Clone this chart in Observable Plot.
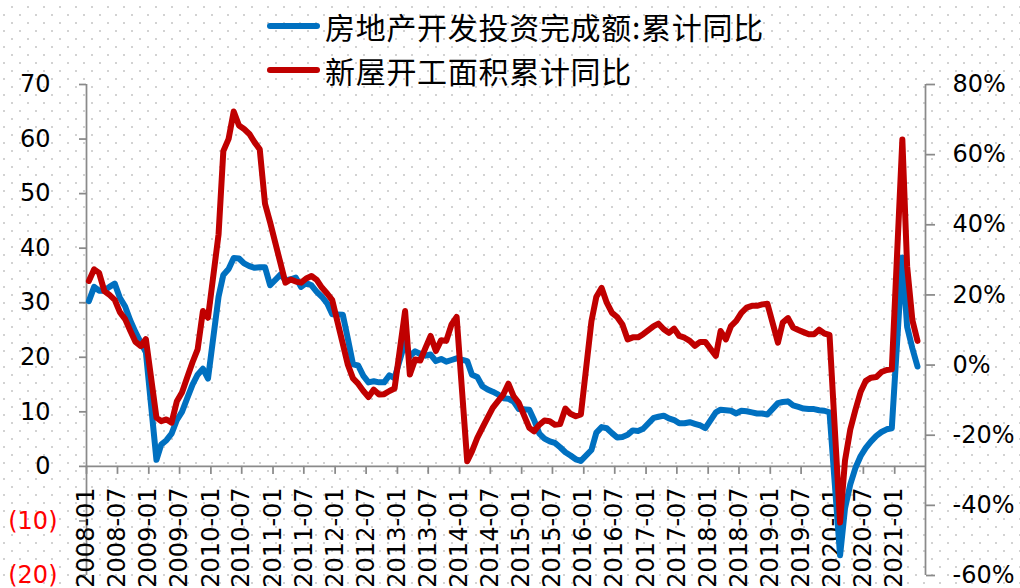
<!DOCTYPE html>
<html>
<head>
<meta charset="utf-8">
<script src="https://cdn.jsdelivr.net/npm/d3@7"></script>
<script src="https://cdn.jsdelivr.net/npm/@observablehq/plot@0.6"></script>
<style>
  html, body { margin: 0; padding: 0; width: 1020px; height: 588px; overflow: hidden; }
  body {
    background-color: #ffffff;
    background-image: url("data:image/svg+xml,%3Csvg xmlns='http://www.w3.org/2000/svg' width='16' height='16'%3E%3Crect x='11' y='6' width='2' height='2' fill='%23d2d2d2'/%3E%3Crect x='3' y='14' width='2' height='2' fill='%23d2d2d2'/%3E%3C/svg%3E");
  }
  #wrap { position: relative; width: 1020px; height: 588px; }
  #chart svg { position: absolute; left: 0; top: 0; }
  .sw { position: absolute; left: 267px; width: 53px; height: 6px; border-radius: 3px; }
  .lt { position: absolute; left: 325px; font-family: "Noto Sans CJK SC", "Noto Sans", sans-serif; font-size: 30px; letter-spacing: 0.7px; line-height: 44px; height: 44px; color: #000; white-space: nowrap; }
</style>
</head>
<body>
<div id="wrap">
  <div id="chart"></div>
  <div id="legend"></div>
</div>
<script>
// ---------------- data ----------------
const seriesNames = ["房地产开发投资完成额:累计同比", "新屋开工面积累计同比"];
const seriesColors = ["#0070C0", "#C00000"];

// reporting months: 2008 Jan–Dec, then Feb–Dec each year (Jan merged into Feb), 2021 Feb–May
const firstYearMonths = [1,2,3,4,5,6,7,8,9,10,11,12];
const yearMonths = [2,3,4,5,6,7,8,9,10,11,12];
const fullYears = [2009,2010,2011,2012,2013,2014,2015,2016,2017,2018,2019,2020];
const lastYearMonths = [2,3,4,5];

// 房地产开发投资完成额:累计同比 (left axis, %)
const investYoY = [
  30.3, 32.9, 32.2, 32.2, 32.9, 33.5, 30.9, 29.3, 26.7, 24.6, 22.7, 20.9, // 2008
  1.2, 4.0, 4.8, 6.0, 8.5, 10.0, 12.5, 15.0, 16.8, 17.9, 16.1,             // 2009
  31.1, 35.1, 36.2, 38.2, 38.1, 37.2, 36.7, 36.4, 36.5, 36.5, 33.2,        // 2010
  35.2, 34.1, 34.3, 34.6, 32.9, 33.6, 33.2, 32.0, 31.1, 29.9, 27.9,        // 2011
  27.8, 23.5, 18.7, 18.5, 16.6, 15.4, 15.6, 15.4, 15.4, 16.7, 16.2,        // 2012
  22.8, 20.2, 21.1, 20.6, 20.3, 20.5, 19.3, 19.7, 19.2, 19.5, 19.8,        // 2013
  19.3, 16.8, 16.4, 14.7, 14.1, 13.7, 13.2, 12.5, 12.4, 11.9, 10.5,        // 2014
  10.4, 8.5, 6.0, 5.1, 4.6, 4.3, 3.5, 2.6, 2.0, 1.3, 1.0,                  // 2015
  3.0, 6.2, 7.2, 7.0, 6.1, 5.3, 5.4, 5.8, 6.6, 6.5, 6.9,                   // 2016
  8.9, 9.1, 9.3, 8.8, 8.5, 7.9, 7.9, 8.1, 7.8, 7.5, 7.0,                   // 2017
  9.9, 10.4, 10.3, 10.2, 9.7, 10.2, 10.1, 9.9, 9.7, 9.7, 9.5,              // 2018
  11.6, 11.8, 11.9, 11.2, 10.9, 10.6, 10.5, 10.5, 10.3, 10.2, 9.9,         // 2019
  -16.3, -7.7, -3.3, -0.3, 1.9, 3.4, 4.6, 5.6, 6.3, 6.8, 7.0,              // 2020
  38.3, 25.6, 21.6, 18.3                                                   // 2021
];

// 新屋开工面积累计同比 (right axis, %)
const startsYoY = [
  24.0, 27.3, 26.3, 21.1, 20.0, 18.6, 15.1, 13.1, 9.7, 6.6, 5.4, 7.4,     // 2008
  -15.0, -16.0, -15.5, -16.4, -10.3, -7.8, -3.5, 0.8, 4.5, 15.4, 13.5,     // 2009
  37.3, 61.0, 64.5, 72.3, 68.3, 67.3, 65.9, 63.5, 61.5, 46.0, 40.7,        // 2010
  28.8, 23.5, 24.4, 23.8, 23.5, 24.7, 25.4, 24.3, 22.1, 20.4, 18.5,        // 2011
  6.1, 0.2, -3.8, -5.3, -7.4, -9.1, -7.0, -8.4, -8.3, -7.4, -6.7,          // 2012
  15.4, -2.7, 1.6, 1.3, 4.9, 8.3, 4.0, 7.1, 6.9, 11.6, 13.7,               // 2013
  -27.4, -24.6, -20.8, -17.9, -15.0, -12.2, -10.3, -8.4, -5.3, -8.9, -10.8,// 2014
  -17.9, -18.9, -17.0, -15.8, -16.0, -17.0, -16.8, -12.4, -13.9, -14.6, -14.1, // 2015
  12.5, 19.5, 22.0, 17.8, 14.9, 13.7, 11.6, 7.3, 7.9, 7.9, 8.8,            // 2016
  11.1, 11.8, 10.2, 9.2, 10.4, 8.3, 7.8, 6.9, 5.5, 6.6, 6.6,               // 2017
  2.6, 9.7, 7.3, 11.1, 12.6, 14.9, 16.4, 16.9, 16.9, 17.3, 17.5,           // 2018
  6.4, 12.1, 13.4, 10.7, 10.0, 9.4, 8.8, 8.8, 10.1, 9.0, 8.6,              // 2019
  -44.9, -27.2, -18.4, -12.8, -7.6, -4.5, -3.6, -3.4, -2.0, -1.4, -1.2,    // 2020
  64.3, 28.2, 12.8, 6.9                                                    // 2021
];

const xTickLabels = [
  "2008-01","2008-07","2009-01","2009-07","2010-01","2010-07","2011-01","2011-07",
  "2012-01","2012-07","2013-01","2013-07","2014-01","2014-07","2015-01","2015-07",
  "2016-01","2016-07","2017-01","2017-07","2018-01","2018-07","2019-01","2019-07",
  "2020-01","2020-07","2021-01"
];
const xStart = "2008-01";
const xEnd = "2021-07";
const leftPosTicks = [0, 10, 20, 30, 40, 50, 60, 70];
const leftNegTicks = [-10, -20];
const leftDomain = [-20, 70];
const rightTicks = [-60, -40, -20, 0, 20, 40, 60, 80];
const rightDomain = [-60, 80];

// ---------------- build ----------------
const periods = [];
firstYearMonths.forEach(m => periods.push([2008, m]));
fullYears.forEach(y => yearMonths.forEach(m => periods.push([y, m])));
lastYearMonths.forEach(m => periods.push([2021, m]));

const midMonth = ([y, m]) => new Date(Date.UTC(y, m - 1, 15));
const monthStart = s => { const [y, m] = s.split("-").map(Number); return new Date(Date.UTC(y, m - 1, 1)); };

const toLeft = p => leftDomain[0] + (p - rightDomain[0]) * (leftDomain[1] - leftDomain[0]) / (rightDomain[1] - rightDomain[0]);
const fromLeft = v => rightDomain[0] + (v - leftDomain[0]) * (rightDomain[1] - rightDomain[0]) / (leftDomain[1] - leftDomain[0]);

const table = periods.map((p, i) => ({date: midMonth(p), invest: investYoY[i], starts: startsYoY[i]}));
const tickDates = xTickLabels.map(monthStart);

const gray = "#8a8a8a";
const font = "DejaVu Sans";

const chart = Plot.plot({
  width: 1020,
  height: 588,
  marginLeft: 86,
  marginRight: 95,
  marginTop: 84,
  marginBottom: 13,
  style: {background: "transparent", fontFamily: font, fontSize: "24px", overflow: "visible", color: "#000"},
  x: {type: "utc", domain: [monthStart(xStart), monthStart(xEnd)], axis: null},
  y: {domain: leftDomain, axis: null},
  marks: [
    // axis lines
    Plot.ruleX([monthStart(xStart)], {y1: () => leftDomain[0], y2: () => leftDomain[1], stroke: gray, strokeWidth: 1.75}),
    Plot.ruleX([monthStart(xEnd)], {y1: () => leftDomain[0], y2: () => leftDomain[1], stroke: gray, strokeWidth: 1.75}),
    Plot.ruleY([0], {stroke: gray, strokeWidth: 1.75}),
    // left axis
    Plot.axisY({anchor: "left", ticks: leftPosTicks, tickSize: 7, tickPadding: 29, stroke: gray, strokeWidth: 1.75, fill: "#000", fontSize: 24, label: null, tickFormat: d => String(d)}),
    Plot.axisY({anchor: "left", ticks: leftNegTicks, tickSize: 7, tickPadding: 22, stroke: gray, strokeWidth: 1.75, fill: "#ff0000", fontSize: 24, label: null, tickFormat: d => `(${Math.abs(d)})`}),
    // right axis
    Plot.axisY({anchor: "right", ticks: rightTicks.map(toLeft), tickSize: 9, tickPadding: 18, stroke: gray, strokeWidth: 1.75, fill: "#000", fontSize: 24, label: null, tickFormat: v => `${Math.round(fromLeft(v))}%`}),
    // x axis ticks and labels at y = 0
    Plot.ruleX(tickDates, {x: d => d, y1: () => 0, y2: () => 0, insetBottom: -8, stroke: gray, strokeWidth: 1.75}),
    Plot.text(tickDates, {x: d => d, y: () => 0, text: (d, i) => xTickLabels[i], rotate: -90, textAnchor: "end", lineAnchor: "middle", dy: 21, fontSize: 24, fill: "#000"}),
    // series
    Plot.line(table, {x: "date", y: "invest", stroke: seriesColors[0], strokeWidth: 6, strokeLinejoin: "round", strokeLinecap: "round"}),
    Plot.line(table, {x: "date", y: d => toLeft(d.starts), stroke: seriesColors[1], strokeWidth: 6, strokeLinejoin: "round", strokeLinecap: "round"})
  ]
});
document.getElementById("chart").appendChild(chart);

// legend: swatch + text per row (rows centred at y = 25.5 and 69.5)
const legend = document.getElementById("legend");
const rowCenters = [25.5, 69.5];
seriesNames.forEach((name, i) => {
  const sw = document.createElement("div");
  sw.className = "sw";
  sw.style.top = (rowCenters[i] - 3) + "px";
  sw.style.background = seriesColors[i];
  legend.appendChild(sw);
  const t = document.createElement("div");
  t.className = "lt";
  t.style.top = (rowCenters[i] - 22) + "px";
  t.textContent = name;
  legend.appendChild(t);
});
</script>
</body>
</html>
